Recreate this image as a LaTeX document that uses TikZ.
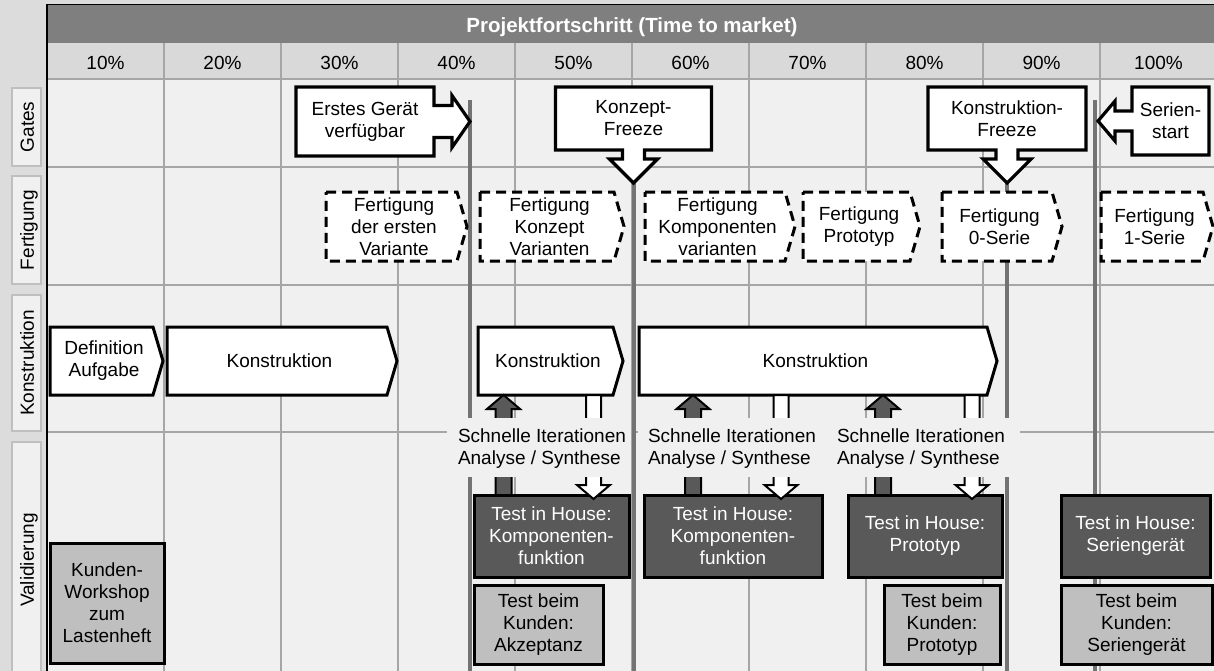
\documentclass[tikz,border=0pt]{standalone}
\usepackage{fontspec}
\setmainfont{Liberation Sans}
\usetikzlibrary{calc}
\definecolor{leftbg}{HTML}{DCDCDC}
\definecolor{gridbg}{HTML}{F0F0F0}
\definecolor{pctbg}{HTML}{D9D9D9}
\definecolor{hdrbg}{HTML}{7F7F7F}
\definecolor{glinec}{HTML}{A6A6A6}
\definecolor{mlinec}{HTML}{737373}
\definecolor{darkbox}{HTML}{595959}
\definecolor{lightbox}{HTML}{BFBFBF}
\definecolor{sideborder}{HTML}{BFBFBF}
\pgfdeclarelayer{gridlayer}
\pgfdeclarelayer{shapelayer}
\pgfsetlayers{gridlayer,shapelayer,main}
\tikzset{
  txt/.style={font=\fontsize{19}{22}\selectfont, align=center, inner sep=0pt, outer sep=0pt},
  sidetxt/.style={txt, rotate=90, text height=13.6pt, text depth=4pt},
  sidebox/.style={draw=sideborder, line width=1.8pt, fill=gridbg},
  gline/.style={draw=glinec, line width=1.5pt},
  mile/.style={draw=mlinec, line width=4pt},
  callout/.style={draw=black, line width=3.2pt, fill=white, line join=miter},
  fertshape/.style={draw=black, line width=3pt, fill=white, dash pattern=on 10pt off 6pt},
  konshape/.style={draw=black, line width=3pt, fill=white, line join=miter},
  inhouse/.style={txt, draw=black, line width=3pt, fill=darkbox, text=white},
  kunde/.style={txt, draw=black, line width=3pt, fill=lightbox},
  uparr/.style={draw=black, line width=2pt, fill=darkbox, line join=miter},
  downarr/.style={draw=black, line width=2pt, fill=white, line join=miter},
  lblbg/.style={fill=gridbg},
  lbltxt/.style={txt, align=left, anchor=west}
}
\newcommand\pentshape[2]{%
  \begin{pgfonlayer}{shapelayer}
  \draw[#2] (#1.north west) -- ($(#1.north east)+(-5,0)$) -- ($(#1.east)+(5,0)$)
    -- ($(#1.south east)+(-5,0)$) -- (#1.south west) -- cycle;
  \end{pgfonlayer}}
\newcommand\upblock[3]{%
  \coordinate (ub) at (#2.north -| #1);
  \coordinate (ut) at (#3.south -| #1);
  \draw[uparr] ($(ub)+(-8,0)$) -- ($(ut)+(-8,14)$) -- ($(ut)+(-16.5,14)$) -- (ut)
    -- ($(ut)+(16.5,14)$) -- ($(ut)+(8,14)$) -- ($(ub)+(8,0)$) -- cycle;}
\newcommand\downblock[3]{%
  \coordinate (db) at (#2.south -| #1);
  \coordinate (dt) at ($(#3.north -| #1)+(0,4)$);
  \draw[downarr] ($(db)+(-7.5,0)$) -- ($(dt)+(-7.5,-14)$) -- ($(dt)+(-16.5,-14)$) -- (dt)
    -- ($(dt)+(16.5,-14)$) -- ($(dt)+(7.5,-14)$) -- ($(db)+(7.5,0)$) -- cycle;}
\begin{document}
\begin{tikzpicture}[x=1pt,y=-1pt]
\useasboundingbox (0,0) rectangle (1214,671);
% ---------------- grid ----------------
\begin{pgfonlayer}{gridlayer}
  \fill[leftbg] (0,0) rectangle (1214,671);
  \fill[hdrbg] (47,5) rectangle (1214,43);
  \fill[pctbg] (47,43) rectangle (1214,79);
  \fill[gridbg] (47,79) rectangle (1214,671);
  \foreach \x in {164,281,398,515,632,749,866,983,1100} \draw[gline] (\x,43) -- (\x,671);
  \foreach \y in {79,167,285,432} \draw[gline] (47,\y) -- (1214,\y);
  \draw[black, line width=1.5pt] (47,671) -- (47,4.5) -- (1214,4.5);
  \draw[sidebox] (12,88) rectangle (41,166);
  \draw[sidebox] (12,176) rectangle (41,284);
  \draw[sidebox] (12,295) rectangle (41,431);
  \draw[sidebox] (12,442) rectangle (41,680);
\end{pgfonlayer}
% header
\node[txt, font=\fontsize{20.5}{24}\selectfont\bfseries, text=white] (title) at (632,27) {Projektfortschritt (Time to market)};
\foreach \p [count=\i] in {10,20,...,100}
  \node[txt] (pct\i) at ({47+117*(\i-0.5)},62.5) {\p\%};
% side labels
\node[sidetxt] (sgates) at (29,127) {Gates};
\node[sidetxt] (sfert) at (29,230) {Fertigung};
\node[sidetxt] (skons) at (29,363) {Konstruktion};
\node[sidetxt] (svali) at (29,560) {Validierung};
% ---------------- gates ----------------
\node[txt, minimum width=138pt, minimum height=69pt] (g1) at (365,121.5) {Erstes Gerät\\verfügbar};
\coordinate (g1tip) at ($(g1.east)+(36,0)$);
\node[txt, minimum width=156pt, minimum height=63pt] (g2) at (633.5,118.5) {Konzept-\\Freeze};
\coordinate (g2tip) at ($(g2.south)+(0,33)$);
\node[txt, minimum width=158pt, minimum height=63pt] (g3) at (1007,118.5) {Konstruktion-\\Freeze};
\coordinate (g3tip) at ($(g3.south)+(0,33)$);
\node[txt, minimum width=77pt, minimum height=68pt] (g4) at (1170.5,121) {Serien-\\start};
\coordinate (g4tip) at ($(g4.west)+(-34,0)$);
\begin{pgfonlayer}{shapelayer}
\draw[callout] (g1.north west) -- (g1.north east) -- ($(g1.east)+(0,-16)$) -- ($(g1.east)+(18,-16)$)
  -- ($(g1.east)+(18,-26)$) -- (g1tip) -- ($(g1.east)+(18,26)$) -- ($(g1.east)+(18,16)$)
  -- ($(g1.east)+(0,16)$) -- (g1.south east) -- (g1.south west) -- cycle;
\draw[callout] (g2.north west) -- (g2.north east) -- (g2.south east) -- ($(g2.south)+(11,0)$)
  -- ($(g2.south)+(11,9)$) -- ($(g2.south)+(24,9)$) -- (g2tip) -- ($(g2.south)+(-24,9)$)
  -- ($(g2.south)+(-11,9)$) -- ($(g2.south)+(-11,0)$) -- (g2.south west) -- cycle;
\draw[callout] (g3.north west) -- (g3.north east) -- (g3.south east) -- ($(g3.south)+(11,0)$)
  -- ($(g3.south)+(11,9)$) -- ($(g3.south)+(24,9)$) -- (g3tip) -- ($(g3.south)+(-24,9)$)
  -- ($(g3.south)+(-11,9)$) -- ($(g3.south)+(-11,0)$) -- (g3.south west) -- cycle;
\draw[callout] (g4.north east) -- (g4.north west) -- ($(g4.west)+(0,-10)$) -- ($(g4.west)+(-17,-10)$)
  -- ($(g4.west)+(-17,-20)$) -- (g4tip) -- ($(g4.west)+(-17,20)$) -- ($(g4.west)+(-17,10)$)
  -- ($(g4.west)+(0,10)$) -- (g4.south west) -- (g4.south east) -- cycle;
\end{pgfonlayer}
% milestone lines
\coordinate (m1t) at (470,100);
\coordinate (m4t) at (1095,100);
\coordinate (bottom) at (0,671);
\begin{pgfonlayer}{gridlayer}
  \draw[mile] (m1t) -- (m1t |- bottom);
  \draw[mile] (g2tip) -- (g2tip |- bottom);
  \draw[mile] (g3tip) -- (g3tip |- bottom);
  \draw[mile] (m4t) -- (m4t |- bottom);
\end{pgfonlayer}
% ---------------- Fertigung ----------------
\node[txt, minimum width=136pt, minimum height=69pt] (f1) at (394,226.5) {Fertigung\\der ersten\\Variante};
\pentshape{f1}{fertshape}
\node[txt, minimum width=139pt, minimum height=69pt] (f2) at (549.5,226.5) {Fertigung\\Konzept\\Varianten};
\pentshape{f2}{fertshape}
\node[txt, minimum width=145pt, minimum height=69pt] (f3) at (717.5,226.5) {Fertigung\\Komponenten\\varianten};
\pentshape{f3}{fertshape}
\node[txt, minimum width=112pt, minimum height=69pt] (f4) at (859,226.5) {Fertigung\\Prototyp};
\pentshape{f4}{fertshape}
\node[txt, minimum width=115pt, minimum height=69pt] (f5) at (999.5,226.5) {Fertigung\\0-Serie};
\pentshape{f5}{fertshape}
\node[txt, minimum width=107pt, minimum height=69pt] (f6) at (1154.5,226.5) {Fertigung\\1-Serie};
\pentshape{f6}{fertshape}
% ---------------- Konstruktion ----------------
\node[txt, minimum width=108pt, minimum height=68pt] (kdef) at (104,361) {Definition\\Aufgabe};
\pentshape{kdef}{konshape}
\node[txt, minimum width=225pt, minimum height=68pt] (kon1) at (279.5,361) {Konstruktion};
\pentshape{kon1}{konshape}
\node[txt, minimum width=140pt, minimum height=68pt] (kon2) at (548,361) {Konstruktion};
\pentshape{kon2}{konshape}
\node[txt, minimum width=353pt, minimum height=68pt] (kon3) at (815.5,361) {Konstruktion};
\pentshape{kon3}{konshape}
% ---------------- Validierung ----------------
\node[kunde, minimum width=114pt, minimum height=120pt] (kw) at (107,603) {Kunden-\\Workshop\\zum\\Lastenheft};
\node[inhouse, minimum width=155pt, minimum height=82pt] (t1) at (551.5,536) {Test in House:\\Komponenten-\\funktion};
\node[inhouse, minimum width=178pt, minimum height=82pt] (t2) at (733,536) {Test in House:\\Komponenten-\\funktion};
\node[inhouse, minimum width=154pt, minimum height=82pt] (t3) at (925,536) {Test in House:\\Prototyp};
\node[inhouse, minimum width=149pt, minimum height=82pt] (t4) at (1135.5,536) {Test in House:\\Seriengerät};
\node[kunde, minimum width=129pt, minimum height=79pt] (c1) at (538.5,624.5) {Test beim\\Kunden:\\Akzeptanz};
\node[kunde, minimum width=116pt, minimum height=79pt] (c2) at (942,624.5) {Test beim\\Kunden:\\Prototyp};
\node[kunde, minimum width=151pt, minimum height=79pt] (c3) at (1136.5,624.5) {Test beim\\Kunden:\\Seriengerät};
% iteration arrows
\coordinate (xa1) at (503.5,0);
\coordinate (xb1) at (593.5,0);
\coordinate (xa2) at (693,0);
\coordinate (xb2) at (781,0);
\coordinate (xa3) at (883,0);
\coordinate (xb3) at (972,0);
\upblock{xa1}{t1}{kon2}
\downblock{xb1}{kon2}{t1}
\upblock{xa2}{t2}{kon3}
\downblock{xb2}{kon3}{t2}
\upblock{xa3}{t3}{kon3}
\downblock{xb3}{kon3}{t3}
% iteration labels
\fill[lblbg] (447,418) rectangle (631,477);
\fill[lblbg] (638,418) rectangle (830,477);
\fill[lblbg] (830,418) rectangle (1020,477);
\node[lbltxt] (it1) at (458,449) {Schnelle Iterationen\\Analyse / Synthese};
\node[lbltxt] (it2) at (648,449) {Schnelle Iterationen\\Analyse / Synthese};
\node[lbltxt] (it3) at (837,449) {Schnelle Iterationen\\Analyse / Synthese};
\end{tikzpicture}
\end{document}
